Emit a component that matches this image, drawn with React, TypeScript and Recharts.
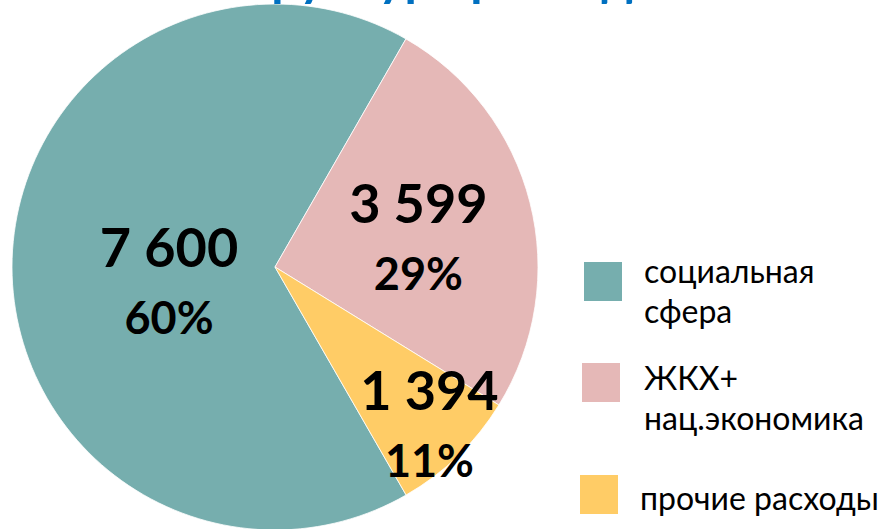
import React from 'react';
import { PieChart, Pie, Cell } from 'recharts';

// Budget expenditure structure
const categories = ['социальная сфера', 'ЖКХ+ нац.экономика', 'прочие расходы'];
const legendLines = [['социальная', 'сфера'], ['ЖКХ+', 'нац.экономика'], ['прочие расходы']];
const amounts = [7600, 3599, 1394];
const percents = [60, 29, 11];
// angular share of each slice as drawn in the original picture
const sliceShares = [66.6, 25.5, 7.9];
const colors = ['#76AEAE', '#E5B8B7', '#FFCC66'];
const title = 'Структура расходов';

const W = 879;
const H = 529;
const FONT = "Lato, 'Open Sans', sans-serif";
const RADIAN = Math.PI / 180;

// where each label block sits: fraction of radius + small angle nudge
const LABEL_LAYOUT = [
    { r: 0.403, shift: 0 },
    { r: 0.57, shift: 2.8 },
    { r: 0.8, shift: 3.1 },
];

const data = categories.map((name, i) => ({
    name,
    value: sliceShares[i],
    amount: amounts[i],
    percent: percents[i],
}));

const formatAmount = (n: number) => String(n).replace(/\B(?=(\d{3})+(?!\d))/g, ' ');

const renderLabel = (props: any) => {
    const { cx, cy, midAngle, outerRadius, index } = props;
    const lay = LABEL_LAYOUT[index];
    const a = (midAngle + lay.shift) * RADIAN;
    const x = cx + outerRadius * lay.r * Math.cos(a);
    const y = cy - outerRadius * lay.r * Math.sin(a);
    return (
        <g key={`lbl-${index}`}>
            <text x={x} y={y} textAnchor="middle" fontFamily={FONT} fontWeight={700} fontSize={54} fill="#000">
                {formatAmount(amounts[index])}
            </text>
            <text x={x} y={y + 67} textAnchor="middle" fontFamily={FONT} fontWeight={700} fontSize={45} fill="#000">
                {percents[index]}%
            </text>
        </g>
    );
};

const legendBoxes = [
    { x: 584, y: 262, tx: 644, ty: 283 },
    { x: 582, y: 363, tx: 644, ty: 390 },
    { x: 580, y: 475, tx: 640, ty: 510 },
];

export default function App() {
    return (
        <div style={{ position: 'absolute', left: 0, top: 0, width: W, height: H, overflow: 'hidden', background: '#fff' }}>
            <PieChart width={W} height={H} margin={{ top: 0, right: 0, bottom: 0, left: 0 }}>
                <Pie
                    data={data}
                    dataKey="value"
                    nameKey="name"
                    cx={275}
                    cy={267}
                    outerRadius={263}
                    startAngle={-60.1}
                    endAngle={-420.1}
                    stroke="#ffffff"
                    strokeWidth={0.8}
                    label={renderLabel}
                    labelLine={false}
                    isAnimationActive={false}
                >
                    {data.map((d, i) => (
                        <Cell key={d.name} fill={colors[i]} />
                    ))}
                </Pie>
            </PieChart>

            <svg width={W} height={H} style={{ position: 'absolute', left: 0, top: 0, pointerEvents: 'none' }}>
                {/* title is cut off by the top edge, only descenders show */}
                <text x={450} y={-4} textAnchor="middle" fontFamily={FONT} fontWeight={700} fontSize={50} fill="#0070C0">
                    {title}
                </text>
                {legendBoxes.map((b, i) => (
                    <g key={categories[i]}>
                        <rect x={b.x} y={b.y} width={38} height={39} fill={colors[i]} />
                        <text x={b.tx} y={b.ty} fontFamily={FONT} fontSize={32} fill="#000">
                            {legendLines[i].map((line, j) => (
                                <tspan key={line} x={b.tx} dy={j === 0 ? 0 : 40}>
                                    {line}
                                </tspan>
                            ))}
                        </text>
                    </g>
                ))}
            </svg>
        </div>
    );
}
